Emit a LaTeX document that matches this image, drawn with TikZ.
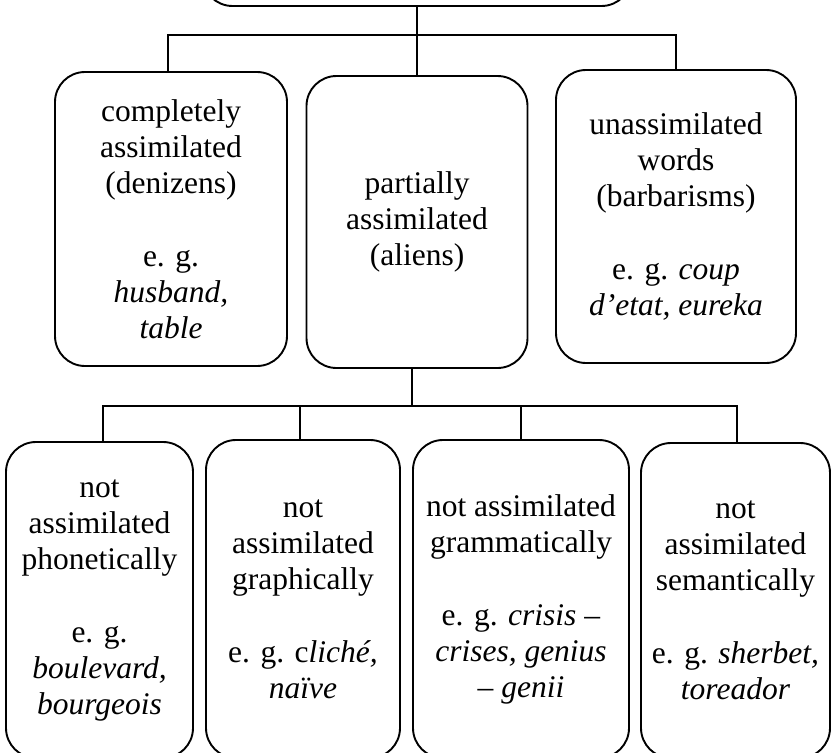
\documentclass[tikz,border=0pt]{standalone}
\usepackage{fontspec}
\setmainfont{Liberation Serif}
\begin{document}
\begin{tikzpicture}[x=1pt,y=-1pt,
  box/.style={draw, line width=1.9pt, rounded corners=30pt, inner sep=0pt,
              align=center, font=\fontsize{31.5}{36}\selectfont},
  link/.style={draw, line width=1.9pt}]
\useasboundingbox (0,0) rectangle (832,752);
\clip (0,0) rectangle (832,752);

% root box (only its lower edge lies in the frame)
\node[box, minimum width=429, minimum height=46] (top) at (417,-17) {};

% first level
\node[box, minimum width=232, minimum height=294] (c1) at (171,219)
  {completely\\assimilated\\(denizens)\\[37pt]e. g.\\\textit{husband,}\\\textit{table}};
\node[box, minimum width=221, minimum height=292] (c2) at (417,222)
  {partially\\assimilated\\(aliens)};
\node[box, minimum width=240, minimum height=293] (c3) at (676,216.5)
  {unassimilated\\words\\(barbarisms)\\[37pt]e. g. \textit{coup}\\\textit{d’etat, eureka}};

% second level
\node[box, minimum width=187, minimum height=316] (b1) at (99.5,600)
  {not\\assimilated\\phonetically\\[37pt]e. g.\\\textit{boulevard,}\\\textit{bourgeois}};
\node[box, minimum width=194, minimum height=318] (b2) at (303,599)
  {not\\assimilated\\graphically\\[37pt]e. g. c\textit{liché,}\\\textit{naïve}};
\node[box, minimum width=216, minimum height=318] (b3) at (521,599)
  {not assimilated\\grammatically\\[37pt]e. g. \textit{crisis –}\\\textit{crises, genius}\\\textit{– genii}};
\node[box, minimum width=189, minimum height=315] (b4) at (735.5,600.5)
  {not\\assimilated\\semantically\\[37pt]e. g. \textit{sherbet,}\\\textit{toreador}};

% bus junctions
\coordinate (busA) at (417,35);
\coordinate (busB) at (412,406);

% connectors, root to first level
\draw[link] (top.south) -- (c2.north);
\draw[link] ([xshift=-3pt]c1.north) |- (busA) -| (c3.north);

% connectors, partially assimilated to second level
\draw[link] ([xshift=-5pt]c2.south) -- (busB);
\draw[link] ([xshift=3.5pt]b1.north) |- (busB) -| ([xshift=1.5pt]b4.north);
\draw[link] ([xshift=-3pt]b2.north) -- ([xshift=-3pt]b2.north |- busB);
\draw[link] (b3.north) -- (b3.north |- busB);
\end{tikzpicture}
\end{document}
